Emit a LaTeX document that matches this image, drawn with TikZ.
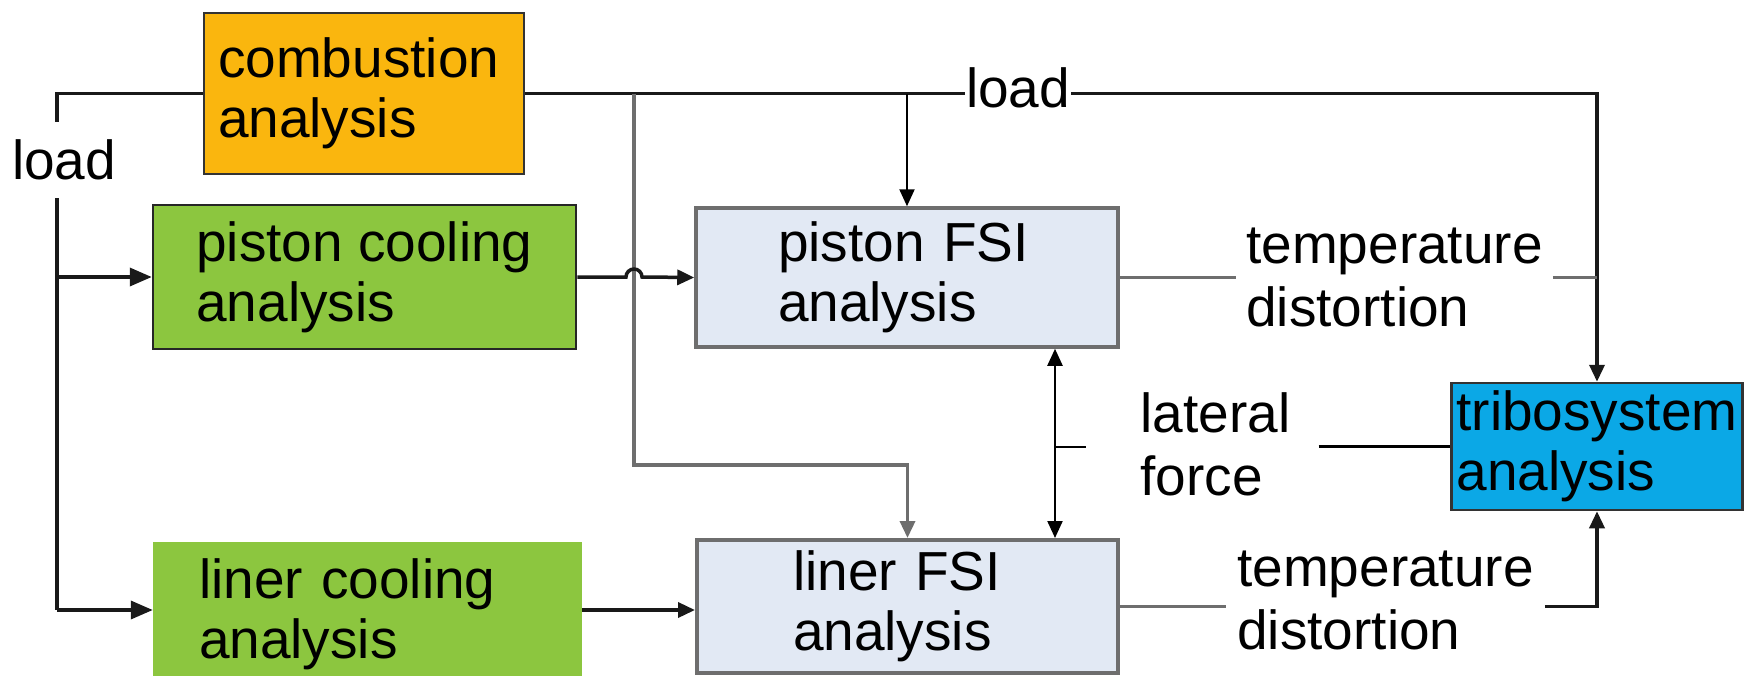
\documentclass[tikz,border=0pt]{standalone}
\usepackage{fontspec}
\setmainfont{Liberation Sans}
\usetikzlibrary{arrows.meta}
\definecolor{orangeF}{RGB}{250,182,14}
\definecolor{greenF}{RGB}{140,198,63}
\definecolor{fsiF}{RGB}{226,233,244}
\definecolor{triboF}{RGB}{11,168,230}
\definecolor{lineG}{RGB}{110,110,110}
\begin{document}
\begin{tikzpicture}[x=1pt,y=-1pt,
  box/.style={align=left, inner sep=0pt, font=\fontsize{55}{60}\selectfont},
  lbl/.style={align=left, inner ysep=0pt, font=\fontsize{55}{63}\selectfont},
  mainline/.style={line width=3.5pt, draw=black!90},
  thinline/.style={line width=2.2pt, draw=black},
  grayline/.style={line width=3.5pt, draw=lineG},
  tip/.style={-{Triangle[length=17pt,width=15pt]}},
  bigtip/.style={-{Triangle[length=22pt,width=18pt]}},
  bothtip/.style={{Triangle[length=17pt,width=15pt]}-{Triangle[length=17pt,width=15pt]}}
]
\clip (0,0) rectangle (1746,675);
\fill[white] (0,0) rectangle (1746,675);

% boxes
\node[box, fill=orangeF, draw=black!80, line width=2.5pt, inner xsep=14pt, text width=292pt, minimum width=320pt, minimum height=161pt] (comb) at (364,93.5) {combustion\\analysis};
\node[box, fill=greenF, draw=black!85, line width=2.5pt, minimum width=423pt, minimum height=144pt] (pcool) at (364.5,277) {piston cooling\\analysis};
\node[box, fill=greenF, inner xsep=46pt, text width=337pt, minimum width=429pt, minimum height=144pt] (lcool) at (367.5,614) {liner cooling\\analysis};
\node[box, fill=fsiF, draw=lineG, line width=3.5pt, inner xsep=82pt, text width=258pt, minimum width=422pt, minimum height=139pt] (pfsi) at (907,277.5) {piston FSI\\analysis};
\node[box, fill=fsiF, draw=lineG, line width=4pt, inner xsep=96pt, text width=229pt, minimum width=421pt, minimum height=133pt] (lfsi) at (907.5,606.5) {liner FSI\\analysis};
\node[box, fill=triboF, draw=black!80, line width=2.5pt, minimum width=291pt, minimum height=127pt] (tribo) at (1597,446.5) {tribosystem\\analysis};

% labels
\node[lbl, inner xsep=0pt, inner ysep=18pt] (loadL) at (64,160) {load};
\node[lbl, inner xsep=1pt] (loadT) at (1018,88) {load};
\node[lbl, inner xsep=28pt] (lat) at (1215.5,444) {lateral\\force};
\node[lbl, inner xsep=10pt] (tempP) at (1394.5,277) {temperature\\distortion};
\node[lbl, inner xsep=11pt] (tempL) at (1385.5,600) {temperature\\distortion};

% coordinates
\coordinate (L1) at (57,93.5);
\coordinate (L2) at (57,610);
\coordinate (TR) at (1597,93.5);
\coordinate (G1) at (634,93.5);
\coordinate (G2) at (634,465);
\coordinate (LF) at (1055,447);
\coordinate (LFe) at (1086,447);
\coordinate (H1) at (626,277);

% connectors
\draw[mainline] (comb.west) -- (L1) -- (L1 |- loadL.north);
\draw[mainline] (L1 |- loadL.south) -- (L2);
\draw[mainline, bigtip] (L1 |- pcool.west) -- (pcool.west);
\draw[mainline, bigtip] (L2) -- (L2 -| lcool.west);

\draw[mainline] (comb.east) -- (loadT.west |- comb.east);
\draw[mainline, tip] (loadT.east |- comb.east) -- (TR) -- (tribo.north);
\draw[thinline, tip] (pfsi.north |- comb.east) -- (pfsi.north);

\draw[grayline, tip] (G1) -- (G2) -| (lfsi.north);
\draw[mainline, tip] (pcool.east) -- (H1) arc[start angle=180, end angle=0, radius=8pt] -- (pfsi.west);
\draw[mainline, tip] (lcool.east |- L2) -- (lfsi.west |- L2);

\draw[thinline, bothtip] (pfsi.south -| LF) -- (lfsi.north -| LF);
\draw[thinline] (LF) -- (LFe);
\draw[thinline] (lat.east |- tribo.west) -- (tribo.west);

\draw[grayline] (pfsi.east) -- (tempP.west |- pfsi.east);
\draw[grayline] (tempP.east |- pfsi.east) -- (TR |- pfsi.east);
\draw[grayline] (lfsi.east) -- (tempL.west |- lfsi.east);
\draw[mainline, tip] (tempL.east |- lfsi.east) -| (tribo.south);
\end{tikzpicture}
\end{document}
